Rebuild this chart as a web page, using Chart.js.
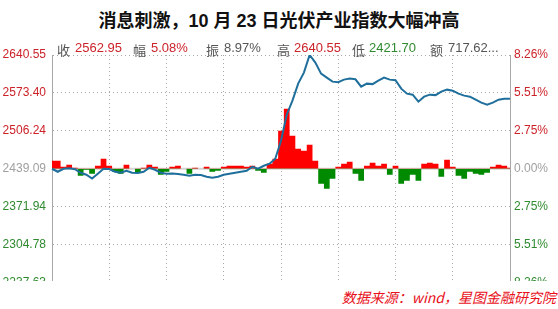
<!doctype html>
<html lang="zh">
<head>
<meta charset="UTF-8">
<title>光伏产业指数</title>
<script src="https://cdn.jsdelivr.net/npm/chart.js"></script>
<style>
    body { margin: 0; background: #fff; width: 558px; height: 309px; position: relative; overflow: hidden;
           font-family: "Liberation Sans", "Noto Sans CJK SC", sans-serif; }
    #title { position: absolute; top: 6px; left: 0; width: 558px; text-align: center;
             font: bold 18px "Liberation Sans", "Noto Sans CJK SC", sans-serif; color: #111; }
    .info { position: absolute; top: 40px; font-size: 13px; color: #555; white-space: nowrap; }
    .red { color: #cc2229; }
    .green { color: #2f8a2f; }
    #wrap { position: absolute; left: 0; top: 40px; width: 558px; height: 241px; overflow: hidden; }
    #src { position: absolute; right: 2px; top: 287px; font-size: 14px; font-style: italic; color: #e8101a;
           font-family: "Noto Sans CJK SC", sans-serif; }
</style>
</head>
<body>
<div id="title">消息刺激，10 月 23 日光伏产业指数大幅冲高</div>
<div id="wrap"><canvas id="c" width="558" height="260"></canvas></div>
<span class="info" style="left:57px">收</span>
<span class="info red" style="left:75px">2562.95</span>
<span class="info" style="left:133px">幅</span>
<span class="info red" style="left:151px">5.08%</span>
<span class="info" style="left:206px">振</span>
<span class="info" style="left:224px">8.97%</span>
<span class="info" style="left:277px">高</span>
<span class="info red" style="left:294px">2640.55</span>
<span class="info" style="left:352px">低</span>
<span class="info green" style="left:369px">2421.70</span>
<span class="info" style="left:430px">额</span>
<span class="info" style="left:448px">717.62...</span>
<div id="src">数据来源：wind，星图金融研究院</div>
<script>
    const prevClose = 2439.09;
    const leftTicks = [2237.63, 2304.78, 2371.94, 2439.09, 2506.24, 2573.40, 2640.55];
    const rightTicks = [-8.26, -5.51, -2.75, 0, 2.75, 5.51, 8.26];

    // index price, one point every 3 minutes (09:30-11:30, 13:00-15:00)
    const price = [
        2439.09, 2433.77, 2439.09, 2440.00, 2438.20, 2432.00, 2428.45, 2421.70, 2430.22, 2439.09,
        2438.50, 2433.77, 2432.00, 2435.54, 2432.00, 2431.60, 2433.77, 2440.86, 2437.32, 2432.00,
        2430.22, 2430.50, 2429.90, 2428.45, 2426.68, 2428.45, 2428.10, 2424.90, 2423.13, 2424.90,
        2428.45, 2430.22, 2432.00, 2433.77, 2435.54, 2442.64, 2439.09, 2444.41, 2447.96, 2456.82,
        2488.75, 2534.85, 2559.68, 2589.83, 2609.34, 2640.55, 2627.07, 2607.56, 2600.47, 2593.38,
        2592.50, 2596.92, 2598.70, 2597.50, 2584.51, 2589.83, 2589.00, 2595.15, 2600.47, 2596.92,
        2596.00, 2580.96, 2572.09, 2570.32, 2557.91, 2566.77, 2570.32, 2569.50, 2575.64, 2579.19,
        2577.42, 2572.09, 2568.55, 2566.77, 2561.45, 2556.13, 2552.59, 2556.13, 2561.45, 2563.23,
        2562.95
    ];

    // red/green strength indicator around the zero line (%)
    const power = [
        0.58, 0.58, 0.15, 0.29, 0.07, -0.51, -0.07, -0.36, 0.22, 0.73,
        0.22, -0.22, -0.36, 0.29, 0, -0.29, 0.07, 0.29, 0.15, -0.44,
        -0.22, 0.15, 0.22, 0, -0.36, 0.07, 0, 0.15, -0.22, -0.15,
        0.15, 0.22, 0.22, 0.22, 0.15, 0.22, -0.15, -0.29, 0.36, 0.73,
        2.76, 4.36, 2.40, 1.45, 1.31, 1.74, 0.58, -1.09, -1.45, -0.73,
        0.15, 0.36, 0.51, -0.36, -0.87, 0.22, 0.44, 0.22, 0.36, -0.44,
        0.22, -1.09, -0.87, -0.44, -0.87, 0.36, 0.44, 0.36, -0.58, 0.65,
        0.15, -0.51, -0.73, -0.22, -0.36, -0.44, -0.29, 0.15, 0.29, 0.22,
        0.07
    ];

    const times = [];
    for (let i = 0; i < price.length; i++) {
        let m = i <= 40 ? 570 + i * 3 : 780 + (i - 40) * 3;
        times.push(String(Math.floor(m / 60)).padStart(2, '0') + ':' + String(m % 60).padStart(2, '0'));
    }

    const red = '#cc2229', green = '#2f8a2f', gray = '#a0a0a0';
    const dotted = '#a8a8a8';

    new Chart(document.getElementById('c'), {
        data: {
            labels: times,
            datasets: [
                {
                    type: 'line',
                    data: price,
                    yAxisID: 'y',
                    borderColor: '#1f6f9c',
                    borderWidth: 2,
                    pointRadius: 0,
                    tension: 0,
                    order: 0
                },
                {
                    type: 'line',
                    data: times.map(() => prevClose),
                    yAxisID: 'y',
                    borderColor: '#d4d4d4',
                    borderWidth: 2,
                    pointRadius: 0,
                    order: 2
                },
                {
                    type: 'line',
                    data: power,
                    yAxisID: 'yp',
                    borderWidth: 0,
                    pointRadius: 0,
                    stepped: 'middle',
                    fill: { target: { value: 0 }, above: '#ff0000', below: '#008a00' },
                    order: 1
                }
            ]
        },
        options: {
            responsive: false,
            animation: false,
            layout: { padding: { top: 15, bottom: 17.5 } },
            plugins: { legend: { display: false }, tooltip: { enabled: false } },
            scales: {
                x: {
                    type: 'category',
                    offset: false,
                    ticks: { display: false },
                    border: { display: false, dash: [1, 3] },
                    grid: {
                        drawTicks: false,
                        color: ctx => (ctx.index % 10 === 0 && ctx.index > 0 && ctx.index < 80) ? dotted : 'rgba(0,0,0,0)',
                        lineWidth: 1
                    },
                    afterFit: s => { s.height = 0; }
                },
                y: {
                    position: 'left',
                    min: leftTicks[0],
                    max: leftTicks[leftTicks.length - 1],
                    afterBuildTicks: s => { s.ticks = leftTicks.map(v => ({ value: v })); },
                    afterFit: s => { s.width = 52; },
                    ticks: {
                        padding: 6,
                        font: { family: 'Liberation Sans', size: 12 },
                        callback: v => v.toFixed(2),
                        color: ctx => {
                            const v = ctx.tick.value;
                            if (Math.abs(v - prevClose) < 0.01) return gray;
                            return v > prevClose ? red : green;
                        }
                    },
                    border: { display: true, color: '#a8a8a8', width: 1, dash: [1, 3] },
                    grid: {
                        drawTicks: false,
                        color: ctx => ctx.index === 0 ? 'rgba(0,0,0,0)' : dotted,
                        lineWidth: 1
                    }
                },
                yp: {
                    position: 'right',
                    min: -8.26,
                    max: 8.26,
                    afterBuildTicks: s => { s.ticks = rightTicks.map(v => ({ value: v })); },
                    afterFit: s => { s.width = 48; },
                    ticks: {
                        padding: 4,
                        font: { family: 'Liberation Sans', size: 12 },
                        callback: v => Math.abs(v).toFixed(2) + '%',
                        color: ctx => {
                            const v = ctx.tick.value;
                            if (v === 0) return gray;
                            return v > 0 ? red : green;
                        }
                    },
                    border: { display: true, color: '#a8a8a8', width: 1 },
                    grid: { display: false, drawTicks: false }
                }
            }
        }
    });
</script>
</body>
</html>
